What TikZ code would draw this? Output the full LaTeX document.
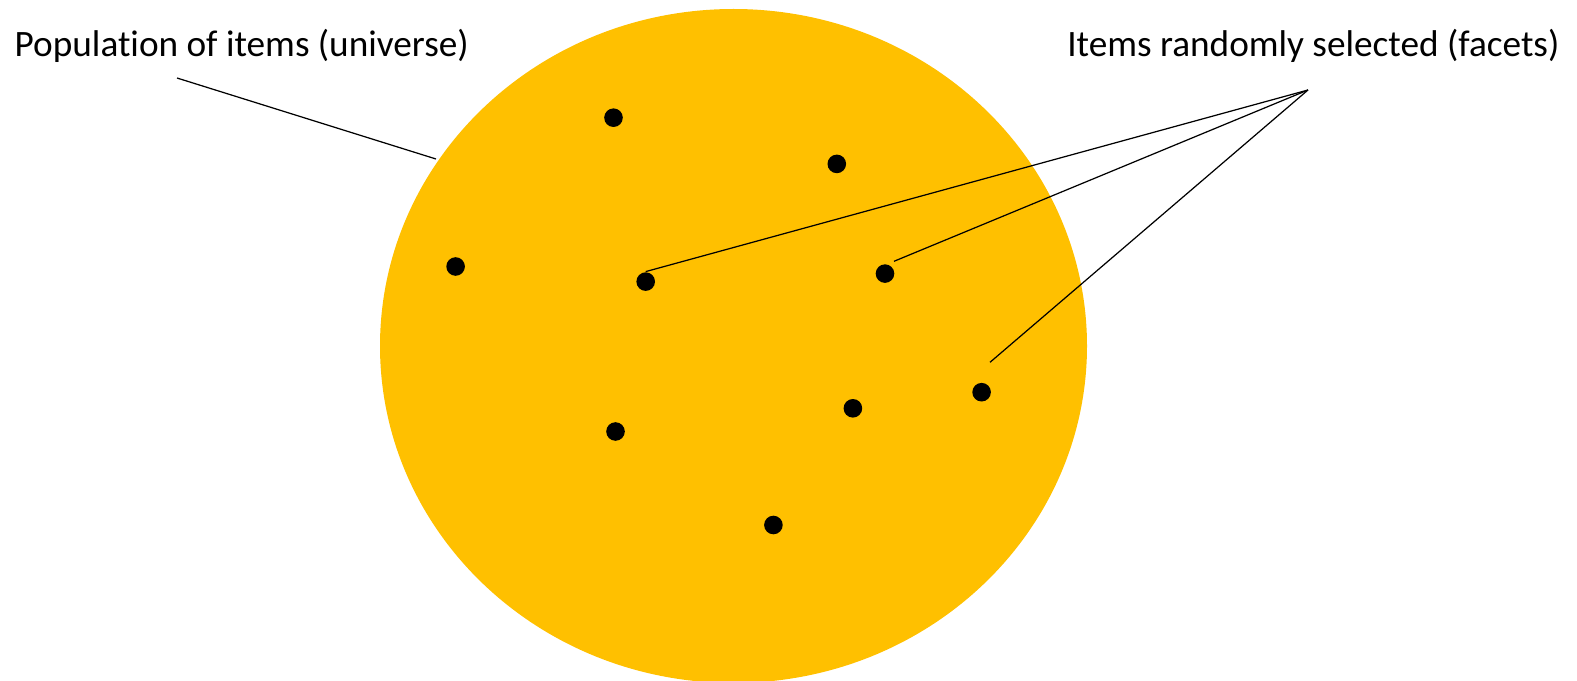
\documentclass[tikz,border=0pt]{standalone}
\usepackage{fontspec}
\setmainfont{Carlito}[Ligatures={NoCommon}]
\usepackage{xcolor}
\usepackage{tikz}
\usetikzlibrary{positioning}
\definecolor{pgold}{HTML}{FFC000}
\definecolor{pdot}{HTML}{000000}
\tikzset{
  universe/.style={fill=pgold,draw=none},
  facet/.style={circle,fill=pdot,draw=none,inner sep=0pt,minimum size=1.86mm},
  plabel/.style={font=\fontsize{10.6}{13}\selectfont,inner sep=0pt,text=black},
  pointer/.style={draw=black,line width=0.35pt}
}
\begin{document}
\begin{tikzpicture}[x=0.1mm,y=-0.1mm]
    \useasboundingbox (0,0) rectangle (1577,681);
    % population
    \fill[universe] (733.5,346) ellipse [x radius=353.5,y radius=337];
    % items
    \node[facet] (a) at (613.5,117.7) {};
    \node[facet] (b) at (836.8,163.9) {};
    \node[facet] (c) at (455.6,266.5) {};
    \node[facet] (d) at (645.7,281.6) {};
    \node[facet] (e) at (885,273.6) {};
    \node[facet] (f) at (981.6,392.2) {};
    \node[facet] (g) at (852.9,408.3) {};
    \node[facet] (h) at (615.5,431.5) {};
    \node[facet] (i) at (773.4,525) {};
    % labels
    \node[plabel,anchor=base west] (pop) at (14,57) {Population of items (universe)};
    \node[plabel,anchor=base east] (sel) at (1560,57) {Items randomly selected (facets)};
    \coordinate (popa) at (177,78);
    \coordinate (popb) at (436,159);
    \coordinate (apex) at (1308,90);
    \coordinate (eend) at (894,261.3);
    \coordinate (fend) at (990,362.3);
    \draw[pointer] (popa)--(popb);
    \draw[pointer] (apex)--(d.north);
    \draw[pointer] (apex)--(eend);
    \draw[pointer] (apex)--(fend);
\end{tikzpicture}
\end{document}
